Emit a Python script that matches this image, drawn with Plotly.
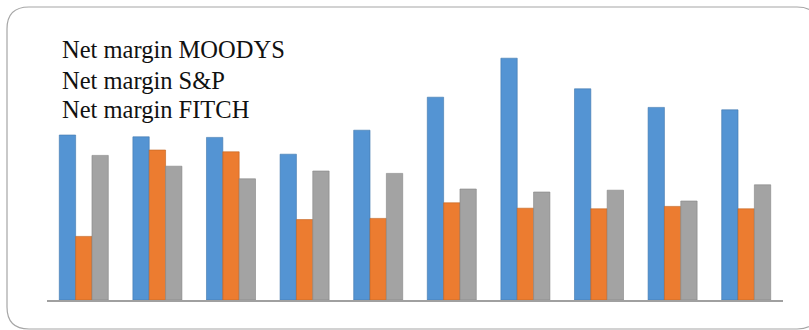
import plotly.graph_objects as go

# ---- data ----
categories = ["1", "2", "3", "4", "5", "6", "7", "8", "9", "10"]
series_names = ["Net margin MOODYS", "Net margin S&P", "Net margin FITCH"]
moodys = [27.5, 27.2, 27.1, 24.3, 28.3, 33.8, 40.3, 35.2, 32.1, 31.7]
sp = [10.6, 25.0, 24.7, 13.4, 13.6, 16.2, 15.3, 15.2, 15.6, 15.2]
fitch = [24.1, 22.3, 20.2, 21.5, 21.1, 18.5, 18.0, 18.3, 16.5, 19.2]
colors = ["#5494d3", "#ec7c30", "#a3a3a3"]
edge_colors = ["#3f77ad", "#c0611f", "#858585"]

W, H = 809, 330
ML, MR, MT, MB = 47, 26, 20, 30
PW, PH = W - ML - MR, H - MT - MB

fig = go.Figure()
for name, vals, col, ec in zip(series_names, [moodys, sp, fitch], colors, edge_colors):
    fig.add_trace(go.Bar(x=categories, y=vals, name=name,
                         marker=dict(color=col, line=dict(width=0.6, color=ec))))

# text-only legend as annotations
legend_y_px = [50, 80, 110]
for name, ypx in zip(series_names, legend_y_px):
    fig.add_annotation(text=name, xref="paper", yref="paper",
                       x=(60 - ML) / PW, y=(H - MB - ypx) / PH,
                       xanchor="left", yanchor="middle", showarrow=False,
                       font=dict(family="Liberation Serif", size=24.5, color="#111111"))

# rounded outer border (pixel geometry converted to paper coords)
def px(x):
    return (x - ML) / PW

def py(y):
    return (H - MB - y) / PH

L, T, R, B, r = 7, 7, 819, 329, 22
path = (f"M {px(L + r)},{py(T)} L {px(R - r)},{py(T)} Q {px(R)},{py(T)} {px(R)},{py(T + r)} "
        f"L {px(R)},{py(B - r)} Q {px(R)},{py(B)} {px(R - r)},{py(B)} "
        f"L {px(L + r)},{py(B)} Q {px(L)},{py(B)} {px(L)},{py(B - r)} "
        f"L {px(L)},{py(T + r)} Q {px(L)},{py(T)} {px(L + r)},{py(T)} Z")
fig.add_shape(type="path", path=path, xref="paper", yref="paper",
              line=dict(color="#a6a6a6", width=1.2), layer="below")

fig.update_layout(
    width=W, height=H,
    margin=dict(l=ML, r=MR, t=MT, b=MB),
    paper_bgcolor="white", plot_bgcolor="white",
    barmode="group", bargap=0.334, bargroupgap=0,
    showlegend=False,
    xaxis=dict(showticklabels=False, showgrid=False, zeroline=False,
               showline=True, linecolor="#a0a0a0", linewidth=2, ticks=""),
    yaxis=dict(range=[0, PH / 6.0], visible=False, showgrid=False, zeroline=False),
)

fig.write_html("out.html")
